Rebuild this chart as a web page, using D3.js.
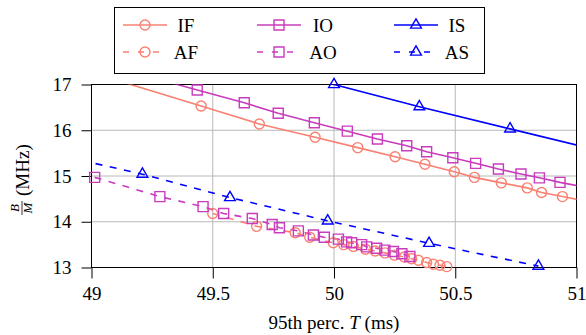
<!DOCTYPE html>
<html>
<head>
<meta charset="utf-8">
<script src="https://cdn.jsdelivr.net/npm/d3@7"></script>
<style>
  body { margin: 0; background: #fff; }
  svg { display: block; }
  svg text { font-family: "Liberation Serif", "Times New Roman", serif; }
</style>
</head>
<body>
<div id="chart"></div>
<script>
// --------------------------------------
//  Data
// --------------------------------------

// IF: solid, circles
const ifX = [49.10, 49.452, 49.692, 49.922, 50.098, 50.252, 50.375, 50.496, 50.579, 50.69, 50.797, 50.856, 50.942, 51.05];
const ifY = [17.10, 16.53, 16.137, 15.846, 15.62, 15.42, 15.256, 15.094, 14.97, 14.85, 14.74, 14.64, 14.55, 14.44];

// IO: solid, squares
const ioX = [49.30, 49.436, 49.63, 49.77, 49.919, 50.055, 50.179, 50.30, 50.382, 50.49, 50.584, 50.678, 50.771, 50.847, 50.932, 51.05];
const ioY = [17.08, 16.88, 16.60, 16.37, 16.165, 15.98, 15.81, 15.66, 15.53, 15.40, 15.277, 15.153, 15.044, 14.96, 14.86, 14.74];

// IS: solid, triangles
const isX = [49.65, 50.0, 50.352, 50.726, 51.10];
const isY = [17.45, 17.0, 16.515, 16.03, 15.55];

// AF: dashed, circles
const afX = [49.50, 49.681, 49.84, 49.90, 49.997, 50.04, 50.08, 50.13, 50.17, 50.21, 50.25, 50.29, 50.32, 50.348, 50.382, 50.41, 50.437, 50.465];
const afY = [14.18, 13.90, 13.76, 13.66, 13.54, 13.50, 13.46, 13.40, 13.36, 13.32, 13.27, 13.23, 13.19, 13.16, 13.11, 13.07, 13.05, 13.02];

// AO: dashed, squares
const aoX = [49.013, 49.282, 49.46, 49.545, 49.663, 49.745, 49.775, 49.853, 49.915, 49.96, 50.018, 50.052, 50.073, 50.114, 50.135, 50.176, 50.21, 50.245, 50.28, 50.313];
const aoY = [14.97, 14.55, 14.33, 14.18, 14.07, 13.94, 13.87, 13.80, 13.71, 13.66, 13.62, 13.56, 13.54, 13.50, 13.45, 13.42, 13.38, 13.35, 13.30, 13.24];

// AS: dashed, triangles
const asX = [48.90, 49.21, 49.571, 49.974, 50.392, 50.843];
const asY = [15.41, 15.04, 14.53, 14.02, 13.53, 13.03];

const xTicks = [49, 49.5, 50, 50.5, 51];
const yTicks = [13, 14, 15, 16, 17];

const seriesNames = ["IF", "IO", "IS", "AF", "AO", "AS"];

// --------------------------------------
//  Margin and canvas
// --------------------------------------

const width = 586;
const height = 335;
const margin = {top: 84.5, right: 9.5, bottom: 67.5, left: 91.5};
const innerWidth = width - margin.left - margin.right;
const innerHeight = height - margin.top - margin.bottom;

const salmon = "#fa8072";
const magenta = "#c93cbd";
const blue = "#0000ff";
const serifFont = "Liberation Serif";

const series = [
  {xs: ifX, ys: ifY, color: salmon, mark: "circle", dashed: false},
  {xs: ioX, ys: ioY, color: magenta, mark: "square", dashed: false},
  {xs: isX, ys: isY, color: blue, mark: "triangle", dashed: false},
  {xs: afX, ys: afY, color: salmon, mark: "circle", dashed: true},
  {xs: aoX, ys: aoY, color: magenta, mark: "square", dashed: true},
  {xs: asX, ys: asY, color: blue, mark: "triangle", dashed: true}
];
series.forEach((s, i) => s.name = seriesNames[i]);

const svg = d3.select("#chart")
  .append("svg")
    .attr("width", width)
    .attr("height", height)
    .attr("viewBox", `0 0 ${width} ${height}`)
    .attr("font-family", serifFont);

svg.append("defs")
  .append("clipPath")
    .attr("id", "plotclip")
  .append("rect")
    .attr("width", innerWidth)
    .attr("height", innerHeight);

const inner = svg.append("g")
  .attr("transform", `translate(${margin.left}, ${margin.top})`);

// --------------------------------------
//  Scales
// --------------------------------------

const x = d3.scaleLinear().domain([49, 51]).range([0, innerWidth]);
const y = d3.scaleLinear().domain([13, 17]).range([innerHeight, 0]);

// --------------------------------------
//  Grid
// --------------------------------------

inner.append("g")
  .selectAll("line")
  .data(xTicks.slice(1, -1))
  .join("line")
    .attr("x1", d => x(d)).attr("x2", d => x(d))
    .attr("y1", 0).attr("y2", innerHeight)
    .attr("stroke", "#b8b8b8").attr("stroke-width", 1);

inner.append("g")
  .selectAll("line")
  .data(yTicks.slice(1, -1))
  .join("line")
    .attr("y1", d => y(d)).attr("y2", d => y(d))
    .attr("x1", 0).attr("x2", innerWidth)
    .attr("stroke", "#b8b8b8").attr("stroke-width", 1);

// --------------------------------------
//  Axes
// --------------------------------------

const xAxis = inner.append("g")
  .attr("transform", `translate(0, ${innerHeight})`)
  .call(d3.axisBottom(x).tickValues(xTicks).tickFormat(d3.format("")).tickSize(11).tickPadding(8));

const yAxis = inner.append("g")
  .call(d3.axisLeft(y).tickValues(yTicks).tickFormat(d3.format("")).tickSize(10).tickPadding(10));

[xAxis, yAxis].forEach(a => {
  a.attr("font-family", serifFont).attr("font-size", 19);
  a.select(".domain").remove();
  a.selectAll("line").attr("stroke", "#000").attr("stroke-width", 1);
  a.selectAll("text").attr("fill", "#000");
});

// frame
inner.append("rect")
  .attr("width", innerWidth)
  .attr("height", innerHeight)
  .attr("fill", "none")
  .attr("stroke", "#000")
  .attr("stroke-width", 1);

// --------------------------------------
//  Marks
// --------------------------------------

function markPath(kind) {
  if (kind === "circle") return "M5,0A5,5,0,1,1,-5,0A5,5,0,1,1,5,0Z";
  if (kind === "square") return "M-5,-5H5V5H-5Z";
  return "M0,-6.2L5.4,3.1L-5.4,3.1Z";
}

const line = d3.line().x(d => x(d[0])).y(d => y(d[1]));

const lines = inner.append("g").attr("clip-path", "url(#plotclip)");

series.forEach(s => {
  const pts = s.xs.map((v, i) => [v, s.ys[i]]);
  lines.append("path")
    .datum(pts)
    .attr("d", line)
    .attr("fill", "none")
    .attr("stroke", s.color)
    .attr("stroke-width", 1.6)
    .attr("stroke-dasharray", s.dashed ? "7,7.5" : null);
});

// markers only for points inside the axis range (they are not clipped)
series.forEach(s => {
  const pts = s.xs.map((v, i) => [v, s.ys[i]])
    .filter(d => d[0] >= 49 - 1e-6 && d[0] <= 51 + 1e-6 && d[1] >= 13 - 1e-6 && d[1] <= 17 + 1e-6);
  inner.append("g")
    .selectAll("path")
    .data(pts)
    .join("path")
      .attr("transform", d => `translate(${x(d[0])}, ${y(d[1])})`)
      .attr("d", markPath(s.mark))
      .attr("fill", "none")
      .attr("stroke", s.color)
      .attr("stroke-width", 1.4);
});

// --------------------------------------
//  Axis labels
// --------------------------------------

const xLabel = svg.append("text")
  .attr("x", margin.left + innerWidth / 2)
  .attr("y", 329)
  .attr("text-anchor", "middle")
  .attr("font-size", 19);
xLabel.append("tspan").text("95th perc. ");
xLabel.append("tspan").attr("font-style", "italic").text("T");
xLabel.append("tspan").text(" (ms)");

const yLab = svg.append("g")
  .attr("transform", `translate(22, ${margin.top + innerHeight / 2}) rotate(-90)`);
// fraction B / M
yLab.append("text").attr("x", -32).attr("y", -3).attr("text-anchor", "middle")
  .attr("font-style", "italic").attr("font-size", 13).text("B");
yLab.append("line").attr("x1", -39).attr("x2", -25).attr("y1", 0).attr("y2", 0)
  .attr("stroke", "#000").attr("stroke-width", 0.8);
yLab.append("text").attr("x", -32).attr("y", 10).attr("text-anchor", "middle")
  .attr("font-style", "italic").attr("font-size", 13).text("M");
yLab.append("text").attr("x", -20).attr("y", 6.5).attr("text-anchor", "start")
  .attr("font-size", 19).text("(MHz)");

// --------------------------------------
//  Legend
// --------------------------------------

const legend = svg.append("g");
legend.append("rect")
  .attr("x", 114.5).attr("y", 7.5)
  .attr("width", 370).attr("height", 66)
  .attr("fill", "#fff").attr("stroke", "#000").attr("stroke-width", 1);

const colX = [123, 257, 394];
const colText = [186, 323, 457];
const rowY = [25, 52];

series.forEach((s, i) => {
  const c = i % 3, r = Math.floor(i / 3);
  const g = legend.append("g");
  g.append("line")
    .attr("x1", colX[c]).attr("x2", colX[c] + 44)
    .attr("y1", rowY[r]).attr("y2", rowY[r])
    .attr("stroke", s.color).attr("stroke-width", 1.6)
    .attr("stroke-dasharray", s.dashed ? "6,9" : null);
  g.append("path")
    .attr("transform", `translate(${colX[c] + 22}, ${rowY[r]})`)
    .attr("d", markPath(s.mark))
    .attr("fill", "none").attr("stroke", s.color).attr("stroke-width", 1.4);
  g.append("text")
    .attr("x", colText[c]).attr("y", rowY[r] + 6.5)
    .attr("text-anchor", "middle")
    .attr("font-size", 19)
    .text(s.name);
});
</script>
</body>
</html>
